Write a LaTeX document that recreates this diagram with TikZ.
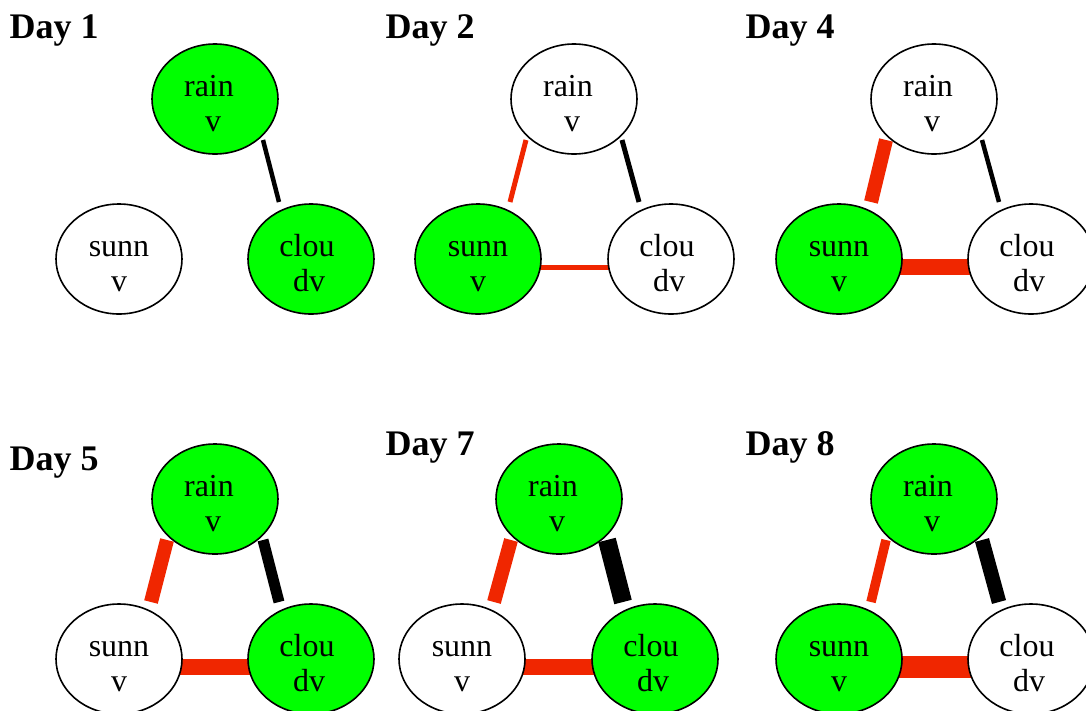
\documentclass[tikz,border=0pt]{standalone}
\usepackage{fontspec}
\setmainfont{Liberation Serif}
\usetikzlibrary{calc,backgrounds,shapes.geometric}
\definecolor{ngreen}{RGB}{0,255,0}
\definecolor{ered}{RGB}{240,38,0}
\tikzset{
  ell/.style={draw=black, ellipse, line width=1.6pt, minimum width=126pt, minimum height=110pt, inner sep=0pt},
  lbl/.style={anchor=base, inner sep=0pt, font=\fontsize{32}{35}\selectfont},
  daytitle/.style={anchor=base west, inner sep=0pt, font=\bfseries\fontsize{36}{40}\selectfont},
  redE/.style={draw=ered, line width=#1},
  blkE/.style={draw=black, line width=#1}
}
% name, x, y, fill, line1, dx1, line2, dx2
\newcommand\gn[8]{%
  \node[ell, fill=#4] (#1) at (#2,#3) {};
  \node[lbl] (#1a) at ($(#1)+(#6,3)$) {#5};
  \node[lbl] (#1b) at ($(#1)+(#8,-32)$) {#7};
}
% panel: suffix, rain x, rain y, sunn x, clou x, fills r s c
\newcommand\panel[8]{%
  \gn{r#1}{#2}{#3}{#6}{rain}{-6}{v}{-2}
  \gn{s#1}{#4}{#3-160}{#7}{sunn}{0}{v}{0}
  \gn{c#1}{#5}{#3-160}{#8}{clou}{-4}{dv}{-2}
}
\begin{document}
\begin{tikzpicture}[x=1pt,y=1pt]
\useasboundingbox (0,0) rectangle (1086,-710);
\clip (0,0) rectangle (1086,-710);

% titles
\node[daytitle] (t1) at (9.5,-38.5) {Day 1};
\node[daytitle] (t2) at (385.5,-38) {Day 2};
\node[daytitle] (t4) at (745.5,-38) {Day 4};
\node[daytitle] (t5) at (9.5,-470.5) {Day 5};
\node[daytitle] (t7) at (385.5,-455) {Day 7};
\node[daytitle] (t8) at (745.5,-455) {Day 8};

% nodes
\panel{1}{215}{-99}{119}{311}{ngreen}{white}{ngreen}
\panel{2}{574}{-99}{478}{671}{white}{ngreen}{white}
\panel{4}{934}{-99}{839}{1031}{white}{ngreen}{white}
\panel{5}{215}{-499}{119}{311}{ngreen}{white}{ngreen}
\panel{7}{559}{-499}{462}{655}{ngreen}{white}{ngreen}
\panel{8}{934}{-499}{839}{1031}{ngreen}{ngreen}{white}

\begin{pgfonlayer}{background}
\fill[white] (0,0) rectangle (1086,-710);
% Day 1
\draw[blkE=4.5pt] ($(r1)+(48,-41)$) -- ($(c1)+(-32,57)$);
% Day 2
\draw[redE=5pt] ($(r2)+(-48,-41)$) -- ($(s2)+(32,57)$);
\draw[blkE=5pt] ($(r2)+(48,-41)$) -- ($(c2)+(-32,57)$);
\draw[redE=5pt] ($(s2)+(50,-8)$) -- ($(c2)+(-50,-8)$);
% Day 4
\draw[redE=14pt] ($(r4)+(-48,-41)$) -- ($(s4)+(32,57)$);
\draw[blkE=4.5pt] ($(r4)+(48,-41)$) -- ($(c4)+(-32,57)$);
\draw[redE=16pt] ($(s4)+(50,-8)$) -- ($(c4)+(-50,-8)$);
% Day 5
\draw[redE=14pt] ($(r5)+(-48,-41)$) -- ($(s5)+(32,57)$);
\draw[blkE=11pt] ($(r5)+(48,-41)$) -- ($(c5)+(-32,57)$);
\draw[redE=16pt] ($(s5)+(50,-8)$) -- ($(c5)+(-50,-8)$);
% Day 7
\draw[redE=14pt] ($(r7)+(-48,-41)$) -- ($(s7)+(32,57)$);
\draw[blkE=18pt] ($(r7)+(48,-41)$) -- ($(c7)+(-32,57)$);
\draw[redE=16pt] ($(s7)+(50,-8)$) -- ($(c7)+(-50,-8)$);
% Day 8
\draw[redE=9.5pt] ($(r8)+(-48,-41)$) -- ($(s8)+(32,57)$);
\draw[blkE=14.5pt] ($(r8)+(48,-41)$) -- ($(c8)+(-32,57)$);
\draw[redE=21.5pt] ($(s8)+(50,-8)$) -- ($(c8)+(-50,-8)$);
\end{pgfonlayer}
\end{tikzpicture}
\end{document}
